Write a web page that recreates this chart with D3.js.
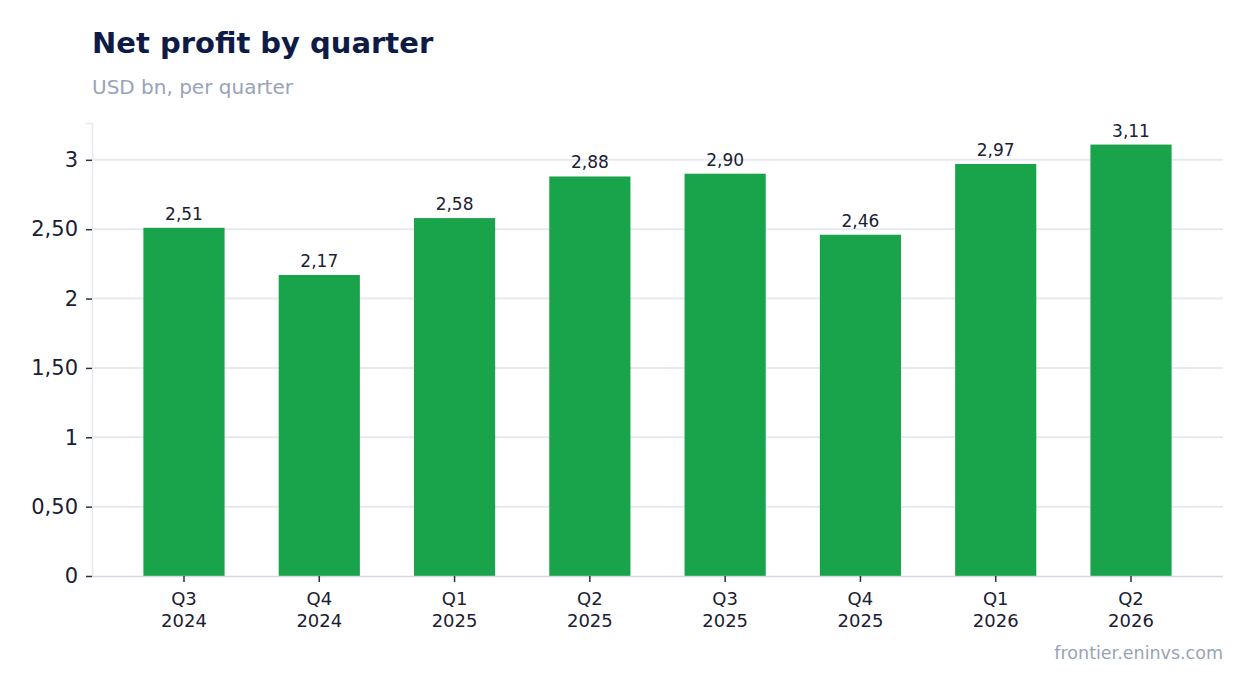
<!DOCTYPE html>
<html>
<head>
<meta charset="utf-8">
<script src="https://cdn.jsdelivr.net/npm/d3@7"></script>
<style>
  body { margin: 0; background: #fff; font-family: "DejaVu Sans", sans-serif; }
</style>
</head>
<body>
<svg id="chart" width="1254" height="693"></svg>
<script>
var quarters = ["Q3", "Q4", "Q1", "Q2", "Q3", "Q4", "Q1", "Q2"];
var years = ["2024", "2024", "2025", "2025", "2025", "2025", "2026", "2026"];
var profit = [2.51, 2.17, 2.58, 2.88, 2.90, 2.46, 2.97, 3.11];
var yTicks = [0, 0.5, 1, 1.5, 2, 2.5, 3];

var plotLeft = 92, plotRight = 1223, plotTop = 123, plotBottom = 576;

var svg = d3.select("#chart");

var x = d3.scaleBand()
  .domain(d3.range(profit.length))
  .range([plotLeft, plotRight])
  .paddingInner(0.4)
  .paddingOuter(0.38);

var y = d3.scaleLinear()
  .domain([0, d3.max(profit) * 1.05])
  .range([plotBottom, plotTop]);

function fmt(v) {
  var s = Number.isInteger(v) ? String(v) : v.toFixed(2);
  return s.replace(".", ",");
}

// title
svg.append("text")
  .attr("x", plotLeft).attr("y", 53)
  .attr("font-size", 29).attr("font-weight", "bold")
  .attr("fill", "#0d1b45")
  .text("Net profit by quarter");

svg.append("text")
  .attr("x", plotLeft).attr("y", 94)
  .attr("font-size", 20)
  .attr("fill", "#97a3b8")
  .text("USD bn, per quarter");

// grid
svg.append("g")
  .selectAll("line")
  .data(yTicks.filter(function(d) { return d > 0; }))
  .enter()
  .append("line")
    .attr("x1", plotLeft).attr("x2", plotRight)
    .attr("y1", function(d) { return y(d); })
    .attr("y2", function(d) { return y(d); })
    .attr("stroke", "#e5e9f0").attr("stroke-width", 2);

// bars
svg.append("g")
  .selectAll("rect")
  .data(profit)
  .enter()
  .append("rect")
    .attr("x", function(d, i) { return x(i); })
    .attr("y", function(d) { return y(d); })
    .attr("width", x.bandwidth())
    .attr("height", function(d) { return y(0) - y(d); })
    .attr("fill", "#19a34a");

svg.append("g")
  .selectAll("text")
  .data(profit)
  .enter()
  .append("text")
    .attr("x", function(d, i) { return x(i) + x.bandwidth() / 2; })
    .attr("y", function(d) { return y(d) - 8; })
    .attr("text-anchor", "middle")
    .attr("font-size", 17)
    .attr("fill", "#1a2133")
    .text(function(d) { return fmt(d); });

// y axis
var yAxis = svg.append("g")
  .attr("transform", "translate(" + plotLeft + ",0)")
  .call(d3.axisLeft(y).tickValues(yTicks).tickFormat(fmt).tickSize(6).tickPadding(8));
yAxis.select(".domain").attr("stroke", "#e5e9f0").attr("stroke-width", 1.5);
yAxis.selectAll(".tick line").attr("stroke", "#2a3142").attr("stroke-width", 1.5);
yAxis.selectAll(".tick text")
  .attr("font-family", "DejaVu Sans").attr("font-size", 21).attr("fill", "#1a2133");

// x axis
var xAxis = svg.append("g")
  .attr("transform", "translate(0," + plotBottom + ")")
  .call(d3.axisBottom(x).tickSize(6).tickPadding(8).tickFormat(""));
xAxis.select(".domain").attr("stroke", "#d3d8e2").attr("stroke-width", 1.5)
  .attr("d", "M" + plotLeft + ",0.5H" + plotRight);
xAxis.selectAll(".tick line").attr("stroke", "#2a3142").attr("stroke-width", 1.5);
xAxis.selectAll(".tick text").remove();
xAxis.selectAll(".tick")
  .append("text")
    .attr("text-anchor", "middle")
    .attr("font-family", "DejaVu Sans").attr("font-size", 18).attr("fill", "#1a2133")
    .each(function(d) {
      var t = d3.select(this);
      t.append("tspan").attr("x", 0).attr("y", 29).text(quarters[d]);
      t.append("tspan").attr("x", 0).attr("y", 51).text(years[d]);
    });

// source
svg.append("text")
  .attr("x", plotRight).attr("y", 659)
  .attr("text-anchor", "end")
  .attr("font-size", 17.5)
  .attr("fill", "#97a3b8")
  .text("frontier.eninvs.com");
</script>
</body>
</html>
